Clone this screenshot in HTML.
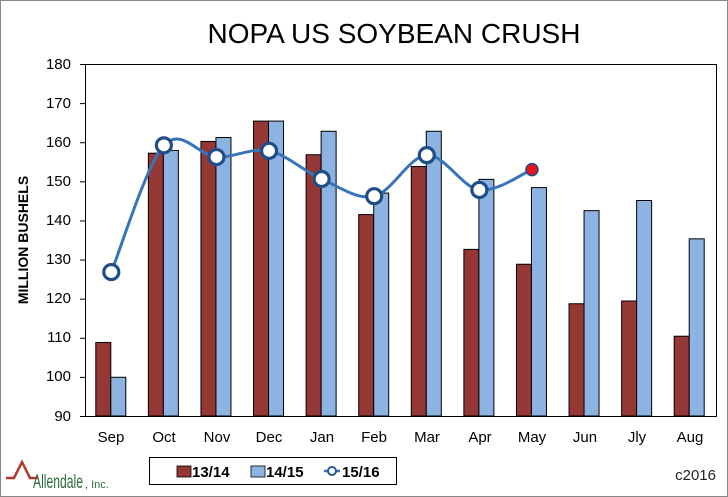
<!DOCTYPE html>
<html><head><style>
body{margin:0;background:#fff;}
svg{display:block;font-family:"Liberation Sans",Arial,sans-serif;}
</style></head><body>
<svg id="s" width="728" height="497" xmlns="http://www.w3.org/2000/svg">
<rect x="0.5" y="0.5" width="727" height="496" fill="#fff" stroke="#888"/>
<text x="394" y="43" font-size="28" text-anchor="middle">NOPA US SOYBEAN CRUSH</text>
<text transform="translate(28,240) rotate(-90)" font-size="14" font-weight="bold" text-anchor="middle">MILLION BUSHELS</text>
<g font-size="15" text-anchor="end">
<text x="71" y="69">180</text><text x="71" y="108">170</text><text x="71" y="147">160</text><text x="71" y="186">150</text><text x="71" y="225">140</text><text x="71" y="264">130</text><text x="71" y="303">120</text><text x="71" y="342">110</text><text x="71" y="381">100</text><text x="71" y="421">90</text>
</g>
<g font-size="15" text-anchor="middle">
<text x="111" y="442">Sep</text><text x="164" y="442">Oct</text><text x="217" y="442">Nov</text><text x="269" y="442">Dec</text><text x="322" y="442">Jan</text><text x="374" y="442">Feb</text><text x="427" y="442">Mar</text><text x="480" y="442">Apr</text><text x="532" y="442">May</text><text x="585" y="442">Jun</text><text x="637" y="442">Jly</text><text x="690" y="442">Aug</text>
</g>
<rect x="149.5" y="457.5" width="247" height="27" fill="#fff" stroke="#000"/>
<rect x="177" y="466" width="14" height="11" fill="#953735" stroke="#000" stroke-width="0.8"/>
<text x="192" y="477" font-size="15" font-weight="bold">13/14</text>
<rect x="251" y="466" width="14" height="11" fill="#8db3e2" stroke="#000" stroke-width="0.8"/>
<text x="266" y="477" font-size="15" font-weight="bold">14/15</text>
<line x1="324" y1="471" x2="340" y2="471" stroke="#3a74b8" stroke-width="2.5"/>
<circle cx="332" cy="471" r="4" fill="#fff" stroke="#2a5a94" stroke-width="2"/>
<text x="342" y="477" font-size="15" font-weight="bold">15/16</text>
<text x="716" y="480" font-size="15" text-anchor="end" fill="#222">c2016</text>
<path d="M6 478 L14 478 L22 462 L30 478 L38 478" fill="none" stroke="#b5362b" stroke-width="2.5"/>
<text x="33" y="488" font-size="19" fill="#2e6b3a" textLength="50" lengthAdjust="spacingAndGlyphs">Allendale</text>
<text x="85" y="488" font-size="11" fill="#2e6b3a">, Inc.</text>
</svg>
<script>
var s=document.getElementById('s'),ns="http://www.w3.org/2000/svg";
function el(n,a){var e=document.createElementNS(ns,n);for(var k in a)e.setAttribute(k,a[k]);s.appendChild(e);return e;}
var L=85,R=716,T=64,B=416,cw=(R-L)/12;
function Y(v){return B-(v-90)*(B-T)/90;}
el('rect',{x:L+.5,y:T+.5,width:R-L,height:B-T,fill:'none',stroke:'#000'});
for(var v=90;v<=180;v+=10)el('line',{x1:L-5,x2:L,y1:Y(v)+.5,y2:Y(v)+.5,stroke:'#000'});
var a=[108.8,157.2,160.2,165.4,156.8,141.5,153.8,132.6,128.8,118.7,119.4,110.4];
var b=[99.9,157.9,161.2,165.4,162.8,147.0,162.8,150.5,148.4,142.5,145.1,135.3];
var c=[126.8,159.2,156.2,157.8,150.6,146.2,156.7,147.8,153.0];
for(var i=0;i<12;i++){var cx=L+cw*(i+.5);
el('rect',{x:cx-15.5,y:Y(a[i]),width:15,height:B-Y(a[i]),fill:'#953735',stroke:'#000','stroke-width':1});
el('rect',{x:cx-0.5,y:Y(b[i]),width:15,height:B-Y(b[i]),fill:'#8db3e2',stroke:'#000','stroke-width':1});}
var p=c.map(function(v,i){return [L+cw*(i+.5),Y(v)];});
var d="M"+p[0][0]+" "+p[0][1];
for(var i=0;i<p.length-1;i++){var p0=p[Math.max(0,i-1)],p1=p[i],p2=p[i+1],p3=p[Math.min(p.length-1,i+2)],t=6;
d+=" C"+(p1[0]+(p2[0]-p0[0])/t)+" "+(p1[1]+(p2[1]-p0[1])/t)+" "+(p2[0]-(p3[0]-p1[0])/t)+" "+(p2[1]-(p3[1]-p1[1])/t)+" "+p2[0]+" "+p2[1];}
el('path',{d:d,fill:'none',stroke:'#3a74b8','stroke-width':3});
p.forEach(function(q,i){el('circle',{cx:q[0],cy:q[1],r:i==8?6:7.5,fill:i==8?'#e8141b':'#fff',stroke:'#1f4e86','stroke-width':i==8?1.5:3.2});});
</script>
</body></html>
